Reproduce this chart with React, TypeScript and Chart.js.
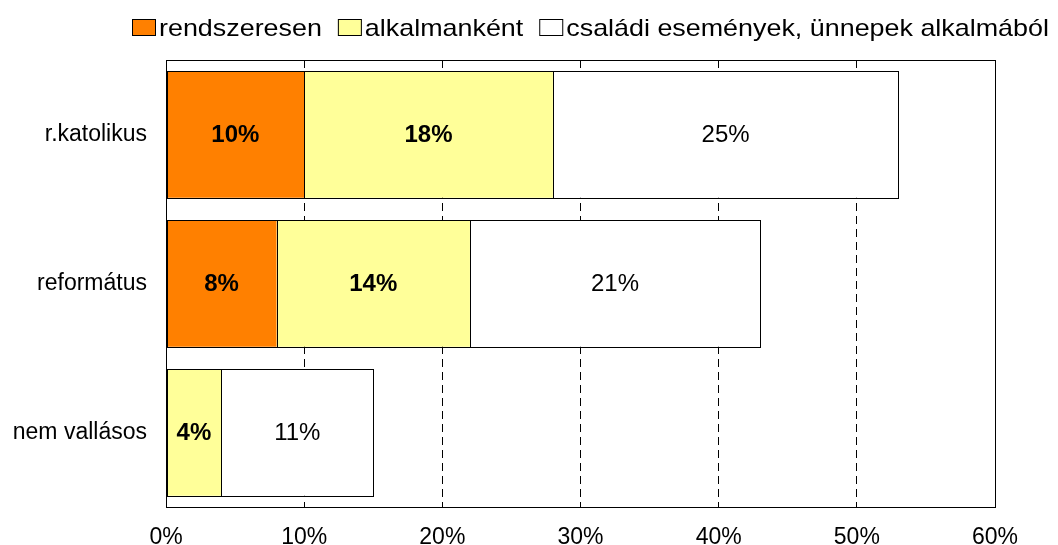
import React, { useEffect, useRef } from "react";
import { Chart, registerables } from "chart.js";

Chart.register(...registerables);

const categories = ["r.katolikus", "református", "nem vallásos"];
const seriesNames = ["rendszeresen", "alkalmanként", "családi események, ünnepek alkalmából"];
const regular = [10, 8, 0];
const occasional = [18, 14, 4];
const familyEvents = [25, 21, 11];
const seriesColors = ["#FF8000", "#FFFF99", "#FFFFFF"];
const boldLabels = [true, true, false];
const xMin = 0;
const xMax = 60;
const xStep = 10;

const FONT = "'Liberation Sans', Arial, sans-serif";

const overlayPlugin = {
  id: "overlay",
  afterDatasetsDraw(chart: any) {
    const ctx = chart.ctx as CanvasRenderingContext2D;
    const a = chart.chartArea;
    ctx.save();
    ctx.setLineDash([]);
    ctx.strokeStyle = "#000";
    ctx.lineWidth = 1;
    // crisp bar outlines
    chart.data.datasets.forEach((ds: any, di: number) => {
      const meta = chart.getDatasetMeta(di);
      meta.data.forEach((el: any, i: number) => {
        const v = ds.data[i];
        if (!v) return;
        const p = el.getProps(["x", "base", "y", "height"], true);
        const l = Math.round(Math.min(p.x, p.base));
        const r = Math.round(Math.max(p.x, p.base));
        const t = Math.round(p.y - p.height / 2);
        const b = Math.round(p.y + p.height / 2);
        ctx.strokeRect(l + 0.5, t + 0.5, r - l, b - t);
      });
    });
    // plot frame
    ctx.strokeRect(
      Math.round(a.left) + 0.5,
      Math.round(a.top) + 0.5,
      Math.round(a.right - a.left),
      Math.round(a.bottom - a.top)
    );
    // data labels
    chart.data.datasets.forEach((ds: any, di: number) => {
      const meta = chart.getDatasetMeta(di);
      meta.data.forEach((el: any, i: number) => {
        const v = ds.data[i];
        if (!v) return;
        const p = el.getProps(["x", "base", "y"], true);
        ctx.font = `${boldLabels[di] ? "bold " : ""}24px ${FONT}`;
        ctx.fillStyle = "#000";
        ctx.textAlign = "center";
        ctx.textBaseline = "middle";
        ctx.fillText(v + "%", (p.x + p.base) / 2, p.y + 1);
      });
    });
    // legend
    const sx = 1.12;
    let x = 132;
    ctx.font = `24px ${FONT}`;
    ctx.textAlign = "left";
    ctx.textBaseline = "alphabetic";
    chart.data.datasets.forEach((ds: any) => {
      ctx.fillStyle = ds.backgroundColor;
      ctx.fillRect(x, 19, 24, 17);
      ctx.strokeStyle = "#000";
      ctx.strokeRect(x + 0.5, 19.5, 23, 16);
      const tx = x + 27;
      ctx.save();
      ctx.translate(tx, 36);
      ctx.scale(sx, 1);
      ctx.fillStyle = "#000";
      ctx.fillText(ds.label, 0, 0);
      ctx.restore();
      x = tx + ctx.measureText(ds.label).width * sx + 16;
    });
    ctx.restore();
  },
};

export default function App() {
  const ref = useRef<HTMLCanvasElement | null>(null);
  useEffect(() => {
    if (!ref.current) return;
    const seriesValues = [regular, occasional, familyEvents];
    const chart = new Chart(ref.current, {
      type: "bar",
      data: {
        labels: categories,
        datasets: seriesValues.map((vals, i) => ({
          label: seriesNames[i],
          data: vals,
          backgroundColor: seriesColors[i],
          borderWidth: 0,
          categoryPercentage: 1,
          barPercentage: 0.85,
        })),
      },
      options: {
        indexAxis: "y",
        responsive: false,
        animation: false,
        events: [],
        devicePixelRatio: 1,
        layout: { padding: { top: 60, right: 63, bottom: 0, left: 0 } },
        plugins: {
          legend: { display: false },
          title: { display: false },
          tooltip: { enabled: false },
        },
        scales: {
          x: {
            stacked: true,
            min: xMin,
            max: xMax,
            position: "bottom",
            ticks: {
              stepSize: xStep,
              callback: (v: any) => v + "%",
              color: "#000",
              font: { family: FONT, size: 23 },
              padding: 17,
              maxRotation: 0,
            },
            grid: { color: "#000", lineWidth: 1, drawTicks: false },
            border: { display: false, dash: [8, 5] },
            afterFit: (s: any) => {
              s.height = 38;
            },
          },
          y: {
            stacked: true,
            ticks: {
              color: "#000",
              font: { family: FONT, size: 23 },
              padding: 19,
            },
            grid: { display: false, drawTicks: false },
            border: { display: false },
            afterFit: (s: any) => {
              s.width = 166;
            },
          },
        },
      } as any,
      plugins: [overlayPlugin],
    });
    return () => chart.destroy();
  }, []);
  return (
    <div style={{ position: "absolute", left: 0, top: 0, width: 1058, height: 545, background: "#fff" }}>
      <canvas ref={ref} width={1058} height={545} style={{ width: 1058, height: 545, display: "block" }} />
    </div>
  );
}
